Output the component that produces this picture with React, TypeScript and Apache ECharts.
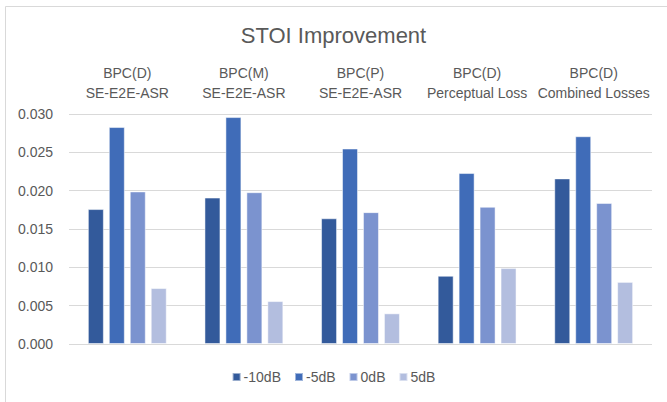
import React, { useEffect, useRef } from "react";
import * as echarts from "echarts";

const categories = [
  "BPC(D)\nSE-E2E-ASR",
  "BPC(M)\nSE-E2E-ASR",
  "BPC(P)\nSE-E2E-ASR",
  "BPC(D)\nPerceptual Loss",
  "BPC(D)\nCombined Losses",
];
const seriesNames = ["-10dB", "-5dB", "0dB", "5dB"];
const m10dB = [0.0176, 0.0191, 0.0164, 0.0089, 0.0216];
const m5dB = [0.0283, 0.0296, 0.0255, 0.0223, 0.0271];
const p0dB = [0.0199, 0.0198, 0.0172, 0.0179, 0.0184];
const p5dB = [0.0073, 0.0056, 0.004, 0.0099, 0.0081];
const colors = ["#335A9B", "#406CB8", "#7B93CF", "#B3BEDF"];

const FONT = "Liberation Sans";
const TXT = "#595959";

export default function App() {
  const ref = useRef<HTMLDivElement>(null);
  useEffect(() => {
    if (!ref.current) return;
    const chart = echarts.init(ref.current, undefined, { renderer: "svg" });
    const data = [m10dB, m5dB, p0dB, p5dB];
    chart.setOption({
      animation: false,
      backgroundColor: "#ffffff",
      textStyle: { fontFamily: FONT },
      title: {
        text: "STOI Improvement",
        left: "center",
        top: 19,
        textStyle: { fontFamily: FONT, fontSize: 22, fontWeight: "normal", color: TXT },
      },
      graphic: [
        { type: "line", shape: { x1: 5.5, y1: 6.5, x2: 667, y2: 6.5 }, style: { stroke: "#D9D9D9", lineWidth: 1 } },
        { type: "line", shape: { x1: 5.5, y1: 6.5, x2: 5.5, y2: 402 }, style: { stroke: "#D9D9D9", lineWidth: 1 } },
      ],
      legend: {
        bottom: 13,
        left: "center",
        itemWidth: 8,
        itemHeight: 8,
        itemGap: 13,
        icon: "rect",
        textStyle: { fontFamily: FONT, fontSize: 14, color: TXT, padding: [0, 0, 0, -2] },
        data: seriesNames,
      },
      grid: { left: 69, right: 15, top: 114, bottom: 58 },
      xAxis: {
        type: "category",
        position: "top",
        data: categories,
        axisLine: { show: false },
        axisTick: { show: false },
        axisLabel: { fontFamily: FONT, fontSize: 14, color: TXT, lineHeight: 20, margin: 11, interval: 0 },
      },
      yAxis: {
        type: "value",
        min: 0,
        max: 0.03,
        interval: 0.005,
        axisLine: { show: false },
        axisTick: { show: false },
        splitLine: { lineStyle: { color: "#D9D9D9", width: 1 } },
        axisLabel: {
          fontFamily: FONT,
          fontSize: 14,
          color: TXT,
          margin: 16,
          formatter: (v: number) => v.toFixed(3),
        },
      },
      series: seriesNames.map((n, i) => ({
        name: n,
        type: "bar",
        data: data[i],
        barWidth: 16,
        barGap: "31%",
        itemStyle: { color: colors[i], borderColor: "rgba(255,255,255,0.5)", borderWidth: 1 },
      })),
    });
    return () => chart.dispose();
  }, []);
  return (
    <div
      ref={ref}
      style={{ position: "absolute", left: 0, top: 0, width: 667, height: 402 }}
    />
  );
}
